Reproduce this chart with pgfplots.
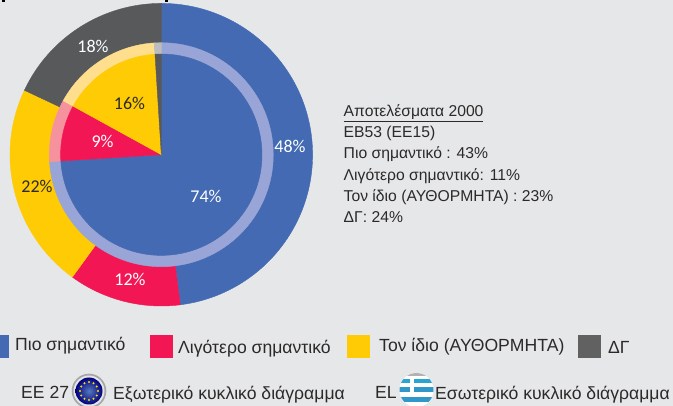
\documentclass[border=0pt]{standalone}
\usepackage{pgfplots}
\pgfplotsset{compat=1.18}
\usepackage{fontspec}
\setmainfont{Liberation Sans}
\newfontfamily\pct{Carlito}
\usetikzlibrary{calc}
\definecolor{bg}{HTML}{E6E7E9}
\definecolor{cblue}{HTML}{436AB2}
\definecolor{cred}{HTML}{F21754}
\definecolor{cyel}{HTML}{FFCB05}
\definecolor{cgray}{HTML}{58595B}
\definecolor{rblue}{HTML}{99A5D6}
\definecolor{rred}{HTML}{F6929E}
\definecolor{ryel}{HTML}{FFDE8E}
\definecolor{rgray}{HTML}{BCBDC0}
\definecolor{txt}{HTML}{2B2A29}
\pgfdeclareplotmark{nil}{}
\pgfplotsset{
  wedge/.style n args={2}{only marks, mark=nil, scatter,
    visualization depends on={\thisrow{start} \as \wstart},
    visualization depends on={\thisrow{share} \as \wshare},
    scatter/@pre marker code/.code={%
      \pgfmathsetmacro\aone{90-3.6*\wstart}%
      \pgfmathsetmacro\atwo{90-3.6*(\wstart+\wshare)}%
      \fill[#1,overlay] (0,0) -- (\aone:#2pt) arc[start angle=\aone, end angle=\atwo, radius=#2pt] -- cycle;},
    scatter/@post marker code/.code={}},
  pctlabel/.style={only marks, mark=nil, scatter,
    visualization depends on={\thisrow{value} \as \pv},
    scatter/@pre marker code/.code={%
      \pgfmathtruncatemacro\pvi{\pv}%
      \node[text=#1,inner sep=0pt,font=\pct\fontsize{18}{18}\selectfont] at (0,0) {\pvi\%};},
    scatter/@post marker code/.code={}},
}
\pgfplotstableread{
cx cy start share
161.3 154.7 0 48
}\outerblue
\pgfplotstableread{
cx cy start share
161.3 154.7 48 12
}\outerred
\pgfplotstableread{
cx cy start share
161.3 154.7 60 22
}\outeryel
\pgfplotstableread{
cx cy start share
161.3 154.7 82 18
}\outergray
\pgfplotstableread{
cx cy start share
161.3 154.7 0 74
}\innerblue
\pgfplotstableread{
cx cy start share
161.3 154.7 74 9
}\innerred
\pgfplotstableread{
cx cy start share
161.3 154.7 83 16
}\inneryel
\pgfplotstableread{
cx cy start share
161.3 154.7 99 1
}\innergray
\pgfplotstableread{
x y value
290 146.5 48
206 196.5 74
130 279.5 12
93 46.5 18
102.5 141.5 9
}\whitelabels
\pgfplotstableread{
x y value
129.5 103.5 16
37 186.5 22
}\darklabels
\begin{document}
\begin{tikzpicture}
\begin{axis}[
  scale only axis, width=673pt, height=406pt,
  xmin=0, xmax=673, ymin=0, ymax=406, y dir=reverse,
  ticks=none, axis line style={draw=none},
  axis background/.style={fill=bg},
  clip=true,
]
% outer ring
\addplot[wedge={cblue}{151.3}] table[x=cx,y=cy] {\outerblue};
\addplot[wedge={cred}{151.3}] table[x=cx,y=cy] {\outerred};
\addplot[wedge={cyel}{151.3}] table[x=cx,y=cy] {\outeryel};
\addplot[wedge={cgray}{151.3}] table[x=cx,y=cy] {\outergray};
% pale ring
\addplot[wedge={rblue}{112}] table[x=cx,y=cy] {\innerblue};
\addplot[wedge={rred}{112}] table[x=cx,y=cy] {\innerred};
\addplot[wedge={ryel}{112}] table[x=cx,y=cy] {\inneryel};
\addplot[wedge={rgray}{112}] table[x=cx,y=cy] {\innergray};
% inner pie
\addplot[wedge={cblue}{100.7}] table[x=cx,y=cy] {\innerblue};
\addplot[wedge={cred}{100.7}] table[x=cx,y=cy] {\innerred};
\addplot[wedge={cyel}{100.7}] table[x=cx,y=cy] {\inneryel};
\addplot[wedge={cgray}{100.7}] table[x=cx,y=cy] {\innergray};
% percent labels
\addplot[pctlabel=white] table[x=x,y=y] {\whitelabels};
\addplot[pctlabel=txt] table[x=x,y=y] {\darklabels};
% cropped remnants of text at the top edge
\fill[black] (axis cs:2,0) rectangle (axis cs:5,2);
\fill[black] (axis cs:165,0) rectangle (axis cs:168,2);
% results text
\node[anchor=north west,text=txt,font=\fontsize{15.7}{21.2}\selectfont,align=left,inner sep=0pt] at (axis cs:343.5,104.5) {\underline{Αποτελέσματα 2000}\\ ΕΒ53 (ΕΕ15)\\ Πιο σημαντικό : 43\%\\ Λιγότερο σημαντικό: 11\%\\ Τον ίδιο (ΑΥΘΟΡΜΗΤΑ) : 23\%\\ ΔΓ: 24\%};
% legend swatches
\fill[cblue] (axis cs:0,335) rectangle (axis cs:9,358);
\fill[cred] (axis cs:150,335) rectangle (axis cs:173,358);
\fill[cyel] (axis cs:347,335) rectangle (axis cs:370,358);
\fill[black!62] (axis cs:578,335) rectangle (axis cs:601,358);
\tikzset{lg/.style={anchor=base west,text=txt,font=\fontsize{17.6}{18}\selectfont,inner sep=0pt}}
\node[lg] at (axis cs:15,351) {Πιο σημαντικό};
\node[lg] at (axis cs:178,354) {Λιγότερο σημαντικό};
\node[lg] at (axis cs:379,352) {Τον ίδιο (ΑΥΘΟΡΜΗΤΑ)};
\node[lg] at (axis cs:608,354) {ΔΓ};
\node[lg] at (axis cs:21,399) {ΕΕ 27};
\node[lg] at (axis cs:113,400) {Εξωτερικό κυκλικό διάγραμμα};
\node[lg] at (axis cs:375,399) {EL};
\node[lg] at (axis cs:435,400) {Εσωτερικό κυκλικό διάγραμμα};
% EU badge
\begin{scope}[overlay]
\fill[black!35] (axis cs:89,391) circle[radius=17.3pt];
\fill[white!90!black] (axis cs:89,391) circle[radius=15.5pt];
\shade[inner color=cblue!90!white, outer color=blue!50!black] (axis cs:89,391) circle[radius=13.5pt];
\pgfplotsinvokeforeach{0,30,60,90,120,150,180,210,240,270,300,330}{\fill[yellow!85!orange] ($(axis cs:89,391)+(#1:9pt)$) circle[radius=1.1pt];}
% Greek badge
\clip (axis cs:416.5,390) circle[radius=17pt];
\fill[white] (axis cs:399,372) rectangle (axis cs:434,406);
\fill[black!30] (axis cs:399,372) rectangle (axis cs:434,376);
\fill[cblue!60!cyan] (axis cs:399,379) rectangle (axis cs:434,383);
\fill[cblue!70!cyan] (axis cs:399,387) rectangle (axis cs:434,392);
\fill[cblue!70!cyan] (axis cs:399,397) rectangle (axis cs:434,402);
\fill[white] (axis cs:399,383) rectangle (axis cs:420,387);
\fill[white] (axis cs:410,379) rectangle (axis cs:414,397);
\end{scope}
\end{axis}
\end{tikzpicture}
\end{document}
